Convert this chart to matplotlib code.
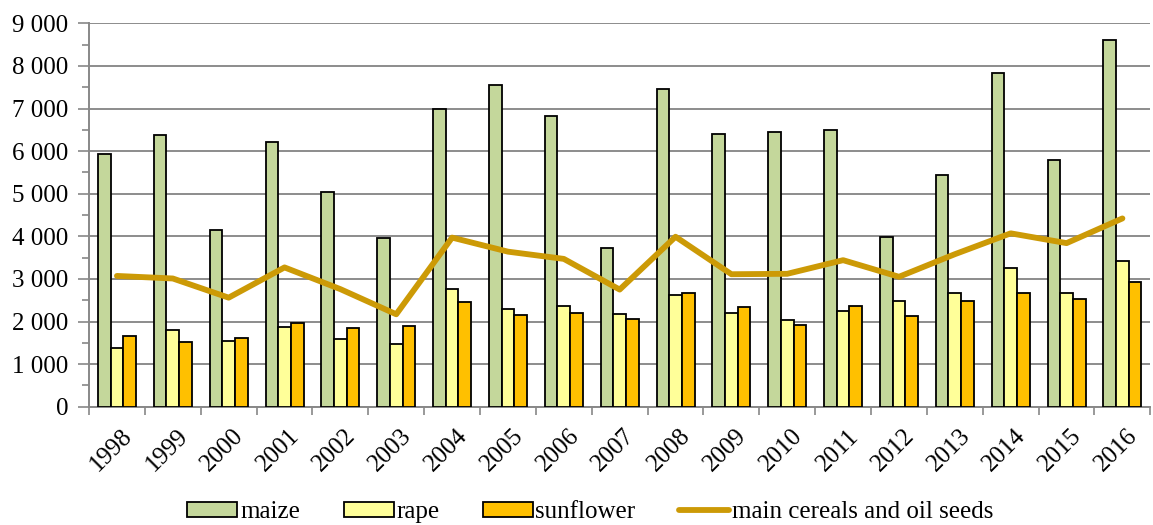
import numpy as np
import matplotlib.pyplot as plt
from matplotlib.ticker import FixedLocator, MultipleLocator, FuncFormatter
from matplotlib.transforms import ScaledTranslation

years = [str(y) for y in range(1998, 2017)]
maize = [5930, 6380, 4150, 6210, 5040, 3950, 7000, 7550, 6820, 3720,
         7460, 6390, 6460, 6500, 3990, 5440, 7830, 5780, 8610]
rape = [1390, 1800, 1540, 1860, 1590, 1480, 2760, 2290, 2370, 2180,
        2630, 2210, 2040, 2240, 2490, 2670, 3260, 2670, 3420]
sunflower = [1670, 1510, 1610, 1960, 1850, 1890, 2460, 2160, 2190, 2060,
             2660, 2340, 1920, 2360, 2130, 2480, 2670, 2540, 2930]
main_total = [3070, 3010, 2560, 3270, 2760, 2170, 3970, 3640, 3470, 2750,
              3990, 3110, 3120, 3440, 3050, 3580, 4070, 3840, 4420]

plt.rcParams['font.family'] = ['Liberation Serif', 'DejaVu Serif']

fig = plt.figure(figsize=(11.53, 5.25), dpi=100)
ax = fig.add_axes([0.0772, 0.2253, 0.9205, 0.7303])

x = np.arange(len(years))
w = 0.227
ax.bar(x - w, maize, w, color='#C4D79B', edgecolor='black', linewidth=1.3, label='maize', zorder=3)
ax.bar(x, rape, w, color='#FFFF99', edgecolor='black', linewidth=1.3, label='rape', zorder=3)
ax.bar(x + w, sunflower, w, color='#FFC000', edgecolor='black', linewidth=1.3, label='sunflower', zorder=3)
ax.plot(x, main_total, color='#CC9A06', linewidth=4.2, solid_capstyle='round',
        label='main cereals and oil seeds', zorder=4)

ax.set_xlim(-0.5, len(years) - 0.5)
ax.set_ylim(0, 9000)

# y axis: gridlines on thousands, small outside ticks on halves
ax.yaxis.set_major_locator(MultipleLocator(1000))
ax.yaxis.set_minor_locator(MultipleLocator(500))
ax.yaxis.set_major_formatter(FuncFormatter(lambda v, p: f'{int(v):,}'.replace(',', ' ')))
ax.tick_params(axis='y', which='major', length=8, width=1.2, color='#888888',
               labelsize=18, pad=7)
ax.tick_params(axis='y', which='minor', length=5, width=1.2, color='#888888')
ax.grid(axis='y', color='#8c8c8c', linewidth=1.4, zorder=0)

# x axis: ticks between categories, labels at centres
ax.xaxis.set_major_locator(FixedLocator(np.arange(-0.5, len(years), 1.0)))
ax.xaxis.set_major_formatter(FuncFormatter(lambda v, p: ''))
ax.set_xticks(x, years, minor=True)
ax.tick_params(axis='x', which='major', length=6, width=1.2, color='#888888', direction='out')
ax.tick_params(axis='x', which='minor', length=0, labelsize=18, pad=13)
shift = ScaledTranslation(4 / 100, 0, fig.dpi_scale_trans)
for lab in ax.get_xticklabels(minor=True):
    lab.set_rotation(45)
    lab.set_ha('right')
    lab.set_va('top')
    lab.set_rotation_mode('anchor')
    lab.set_transform(lab.get_transform() + shift)

for s in ['top', 'right']:
    ax.spines[s].set_visible(False)
for s in ['left', 'bottom']:
    ax.spines[s].set_color('#888888')
    ax.spines[s].set_linewidth(1.4)

handles, labels = ax.get_legend_handles_labels()
order = [1, 2, 3, 0]
fig.legend([handles[i] for i in order], [labels[i] for i in order],
           loc='center', bbox_to_anchor=(0.512, 0.025), ncol=4, frameon=False,
           fontsize=18, handlelength=2.0, handleheight=0.55, columnspacing=1.75,
           handletextpad=0.1, borderaxespad=0)

fig.savefig('out.png', dpi=100)
